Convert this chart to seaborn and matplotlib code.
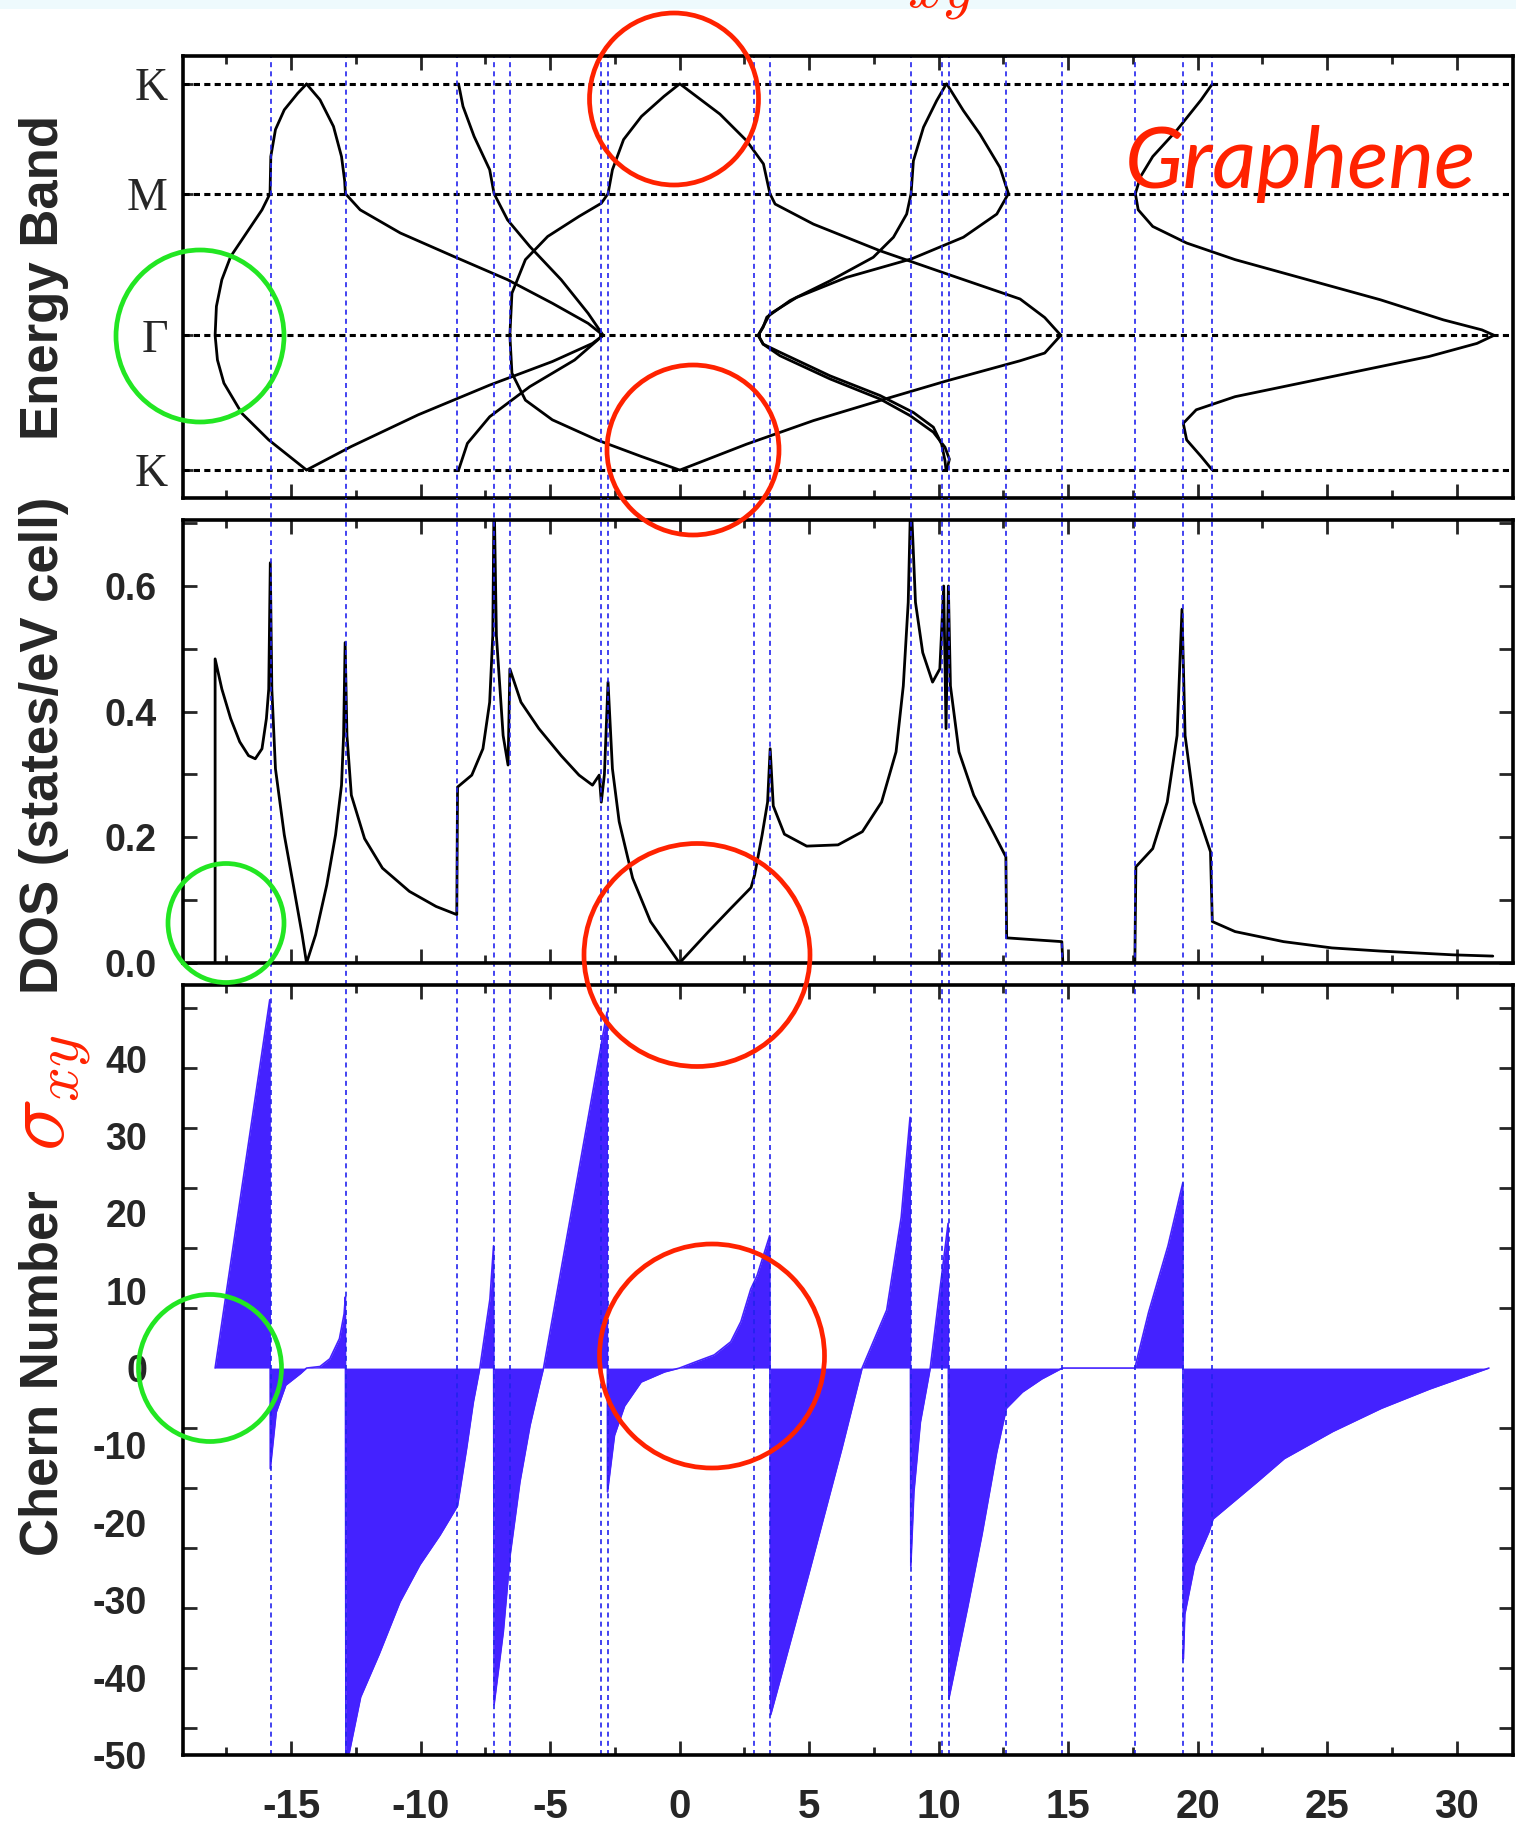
import numpy as np
import matplotlib
matplotlib.use("Agg")
import matplotlib.pyplot as plt
import seaborn as sns
from matplotlib.patches import Ellipse, Rectangle
from matplotlib.ticker import MultipleLocator, FixedLocator

# ---------------- data ----------------
# k-path positions (fraction of the K-Gamma-M-K path)
k_ticks = [0.0, 0.349, 0.716, 1.0]
k_labels = ["K", "Γ", "M", "K"]

# bands: energy (eV) vs k-path position
band1_E = [-14.40, -15.86, -16.90, -17.59, -17.84, -17.93, -17.88, -17.67, -17.33, -16.72, -16.12,
           -15.81, -15.78, -15.60, -15.26, -14.74, -14.40]
band1_k = [0.000, 0.078, 0.147, 0.225, 0.285, 0.349, 0.424, 0.493, 0.553, 0.614, 0.674,
           0.716, 0.812, 0.882, 0.933, 0.976, 1.000]

band2_E = [-14.40, -13.88, -13.36, -13.05, -12.93, -12.90, -12.33, -10.78, -8.71, -6.64, -4.91,
           -3.53, -2.95, -3.36, -4.91, -7.33, -10.09, -12.67, -14.40]
band2_k = [1.000, 0.959, 0.890, 0.812, 0.750, 0.716, 0.674, 0.614, 0.553, 0.493, 0.432,
           0.380, 0.349, 0.328, 0.281, 0.220, 0.143, 0.061, 0.000]

band3_E = [-8.53, -8.36, -7.93, -7.33, -7.16, -6.64, -5.78, -4.57, -3.53, -2.95, -4.05, -5.78,
           -7.33, -8.19, -8.53]
band3_k = [1.000, 0.942, 0.864, 0.778, 0.716, 0.648, 0.579, 0.493, 0.406, 0.349, 0.285, 0.216,
           0.138, 0.069, 0.000]

band4_E = [0.00, -0.60, -1.47, -2.16, -2.59, -2.76, -3.02, -3.88, -5.09, -5.95, -6.47, -6.55,
           -6.47, -5.95, -4.91, -3.19, -1.47, 0.00]
band4_k = [1.000, 0.968, 0.916, 0.856, 0.778, 0.716, 0.691, 0.657, 0.605, 0.545, 0.458, 0.349,
           0.251, 0.181, 0.130, 0.078, 0.035, 0.000]

band5_E = [0.02, 1.56, 2.59, 3.24, 3.49, 3.69, 5.17, 7.74, 10.32, 13.15, 14.10, 14.72, 14.10,
           13.15, 10.32, 7.74, 5.17, 2.59, 0.02]
band5_k = [1.000, 0.922, 0.853, 0.793, 0.716, 0.689, 0.637, 0.568, 0.508, 0.443, 0.395, 0.349,
           0.303, 0.283, 0.231, 0.180, 0.128, 0.067, 0.000]

band6_E = [10.29, 10.25, 10.12, 9.80, 9.03, 7.74, 5.81, 3.88, 3.23, 3.04, 3.23, 3.37, 4.27, 5.81,
           7.48, 8.26, 8.77, 8.94, 9.03, 9.42, 9.93, 10.30]
band6_k = [0.000, 0.024, 0.067, 0.111, 0.149, 0.193, 0.244, 0.305, 0.326, 0.349, 0.370, 0.396,
           0.439, 0.490, 0.551, 0.603, 0.663, 0.716, 0.801, 0.888, 0.957, 1.000]

band7_E = [10.32, 10.42, 10.25, 9.80, 8.90, 7.74, 5.81, 3.88, 3.23, 3.04, 3.23, 3.49, 4.52, 6.45,
           8.96, 10.96, 12.25, 12.70, 12.37, 11.60, 10.96, 10.32]
band7_k = [0.000, 0.028, 0.059, 0.098, 0.141, 0.184, 0.236, 0.296, 0.326, 0.349, 0.372, 0.404,
           0.447, 0.499, 0.547, 0.603, 0.663, 0.716, 0.784, 0.870, 0.931, 1.000]

band8_E = [20.57, 20.14, 19.21, 18.27, 17.80, 17.60, 17.71, 18.27, 19.58, 21.45, 24.25, 27.06,
           29.49, 30.98, 31.45, 30.79, 28.93, 25.19, 21.45, 19.95, 19.45, 19.58, 20.14, 20.57]
band8_k = [1.000, 0.959, 0.881, 0.812, 0.760, 0.716, 0.674, 0.631, 0.588, 0.545, 0.493, 0.441,
           0.389, 0.363, 0.349, 0.328, 0.294, 0.242, 0.190, 0.156, 0.121, 0.078, 0.035, 0.000]

# density of states
dos_E = [-17.93, -17.93, -17.67, -17.33, -16.98, -16.64, -16.38, -16.12, -15.95, -15.86,
         -15.80, -15.74, -15.60, -15.26, -14.91, -14.57, -14.40, -14.05, -13.62, -13.28,
         -13.05, -12.97, -12.91, -12.84, -12.67, -12.16, -11.47, -10.43, -9.40, -8.60,
         -8.57, -8.02, -7.59, -7.33, -7.21, -7.16, -7.07, -6.81, -6.62, -6.55,
         -6.12, -5.43, -4.57, -3.88, -3.36, -3.10, -3.02, -2.90, -2.76, -2.59,
         -2.33, -1.81, -1.12, 0.00, 1.12, 1.98, 2.76, 2.90, 3.19, 3.40,
         3.50, 3.62, 4.05, 4.91, 6.12, 7.06, 7.80, 8.36, 8.64, 8.83,
         8.93, 9.11, 9.39, 9.77, 10.05, 10.20, 10.29, 10.38, 10.46, 10.79,
         11.36, 12.10, 12.60, 12.63, 14.76, 14.80, 17.58, 17.62, 18.27, 18.83,
         19.21, 19.40, 19.52, 19.86, 20.50, 20.57, 21.45, 23.32, 25.19, 27.06,
         29.86, 31.40]
dos_val = [0.0, 0.484, 0.436, 0.389, 0.352, 0.330, 0.325, 0.341, 0.389, 0.436,
           0.637, 0.436, 0.309, 0.204, 0.124, 0.045, 0.0, 0.045, 0.124, 0.204,
           0.283, 0.362, 0.510, 0.362, 0.267, 0.198, 0.151, 0.114, 0.090, 0.077,
           0.280, 0.299, 0.341, 0.415, 0.521, 0.75, 0.521, 0.362, 0.315, 0.468,
           0.415, 0.373, 0.330, 0.299, 0.283, 0.299, 0.256, 0.300, 0.447, 0.309,
           0.225, 0.135, 0.066, 0.0, 0.050, 0.087, 0.120, 0.140, 0.204, 0.256,
           0.341, 0.250, 0.205, 0.186, 0.188, 0.209, 0.256, 0.336, 0.441, 0.574,
           0.75, 0.574, 0.494, 0.447, 0.468, 0.60, 0.373, 0.60, 0.441, 0.336,
           0.267, 0.209, 0.169, 0.040, 0.034, 0.0, 0.0, 0.153, 0.182, 0.256,
           0.362, 0.563, 0.362, 0.256, 0.177, 0.066, 0.050, 0.034, 0.024, 0.019,
           0.013, 0.011]

# Chern number / sigma_xy
chern_E = [-17.93, -15.82, -15.80, -15.57, -15.20, -14.63, -14.40, -13.88, -13.50, -13.13,
           -12.95, -12.90, -12.88, -12.75, -12.31, -11.60, -10.79, -10.02, -9.25, -8.57,
           -8.22, -7.96, -7.71, -7.32, -7.18, -7.16, -6.80, -6.54, -6.16, -5.77,
           -5.38, -5.25, -2.80, -2.78, -2.51, -2.12, -1.48, -0.58, 0.00, 0.70,
           1.34, 1.98, 2.37, 2.75, 3.00, 3.48, 3.52, 5.00, 6.27, 7.05,
           8.00, 8.56, 8.90, 8.93, 9.05, 9.30, 9.68, 10.37, 10.40, 11.12,
           11.68, 12.24, 12.62, 13.24, 13.99, 14.78, 17.58, 18.11, 18.86, 19.43,
           19.45, 19.51, 19.89, 20.45, 20.60, 22.31, 23.35, 25.22, 27.10, 28.97,
           31.25]
chern_val = [0.0, 47.6, -13.0, -5.7, -2.2, -0.7, 0.0, 0.2, 1.2, 3.8,
             7.0, 9.2, -50.0, -49.7, -42.5, -37.0, -30.2, -25.4, -21.6, -17.8,
             -10.4, -4.4, 0.0, 8.9, 15.8, -43.5, -34.0, -24.2, -14.7, -7.4,
             -1.8, 0.0, 46.0, -16.0, -8.7, -4.9, -1.8, -0.5, 0.0, 0.9,
             1.7, 3.4, 6.0, 10.2, 12.0, 17.1, -44.8, -26.5, -10.4, 0.0,
             7.5, 19.5, 32.4, -25.6, -16.0, -7.0, 0.0, 18.7, -42.7, -31.0,
             -21.5, -11.0, -5.2, -3.1, -1.4, 0.0, 0.0, 7.2, 15.8, 23.9,
             -37.6, -31.8, -25.4, -21.1, -19.5, -14.7, -11.7, -8.2, -5.2, -2.7,
             0.0]

# van Hove energies (blue dashed guides)
vhs_E = [-15.78, -12.89, -8.60, -7.17, -6.56, -3.04, -2.76, 2.87, 3.50, 8.93, 10.14,
         10.40, 12.62, 14.78, 17.57, 19.45, 20.57]

chern_labels = [-50, -40, -30, -20, -10, 0, 10, 20, 30, 40]

# ---------------- styling ----------------
sns.set_theme(style="white")
plt.rcParams.update({
    "font.family": ["Liberation Sans", "DejaVu Sans"],
    "axes.unicode_minus": False,
    "mathtext.fontset": "cm",
    "axes.linewidth": 2.6,
    "axes.edgecolor": "black",
})

RED = "#ff2200"
GREEN = "#22e622"
BLUE_FILL = "#4422ff"
BLUE_LINE = "#2222ee"
XLIM = (-19.17, 32.18)
W, H = 1516, 1825

fig = plt.figure(figsize=(15.16, 18.25), dpi=100)
fig.patch.set_facecolor("white")

ax1 = fig.add_axes([183 / W, 1 - 498 / H, 1330 / W, 442 / H])
ax2 = fig.add_axes([183 / W, 1 - 963 / H, 1330 / W, 443 / H])
ax3 = fig.add_axes([183 / W, 1 - 1755 / H, 1330 / W, 770 / H])

# ---- top: band structure
bands = [(band1_E, band1_k), (band2_E, band2_k), (band3_E, band3_k), (band4_E, band4_k),
         (band5_E, band5_k), (band6_E, band6_k), (band7_E, band7_k), (band8_E, band8_k)]
for be, bk in bands:
    sns.lineplot(x=be, y=bk, ax=ax1, sort=False, estimator=None, color="black", linewidth=2.0)
for kk in k_ticks:
    ax1.axhline(kk, color="black", linestyle=(0, (2, 1.4)), linewidth=2.2, zorder=2)
ax1.set_ylim(-0.0725, 1.0725)

# ---- middle: DOS
sns.lineplot(x=dos_E, y=dos_val, ax=ax2, sort=False, estimator=None, color="black", linewidth=2.0)
ax2.set_ylim(0, 0.705)

# ---- bottom: Chern number
ax3.fill_between(chern_E, 0, chern_val, color=BLUE_FILL, linewidth=0, zorder=2)
ax3.plot(chern_E, chern_val, color=BLUE_FILL, linewidth=1.2, zorder=2)
ax3.set_ylim(-50, 49.5)

# van Hove guide lines
for e in vhs_E:
    ax1.axvline(e, color=BLUE_LINE, linestyle=(0, (3, 2.5)), linewidth=1.2, zorder=3)
    ax3.axvline(e, color=BLUE_LINE, linestyle=(0, (3, 2.5)), linewidth=1.2, zorder=3)
    ax2.axvline(e, ymin=-0.05, ymax=1.05, clip_on=False, color=BLUE_LINE,
                linestyle=(0, (3, 2.5)), linewidth=1.2, zorder=3)

# ---- axes and ticks
for ax in (ax1, ax2, ax3):
    ax.set_xlim(XLIM)
    ax.set_xlabel("")
    ax.set_ylabel("")
    ax.xaxis.set_major_locator(MultipleLocator(5))
    ax.xaxis.set_minor_locator(MultipleLocator(2.5))
    ax.tick_params(axis="x", which="major", direction="in", length=10, width=2,
                   top=True, bottom=True)
    ax.tick_params(axis="x", which="minor", direction="in", length=6, width=2,
                   top=True, bottom=True)
    for s in ax.spines.values():
        s.set_linewidth(2.6)
        s.set_zorder(5)

ax1.tick_params(axis="x", labelbottom=False)
ax2.tick_params(axis="x", labelbottom=False)

ax1.set_yticks(k_ticks)
ax1.set_yticklabels(k_labels, fontfamily="Liberation Serif", fontsize=33)
ax1.tick_params(axis="y", direction="in", length=7, width=2, left=True, right=False, pad=11)

ax2.yaxis.set_major_locator(MultipleLocator(0.2))
ax2.yaxis.set_minor_locator(MultipleLocator(0.1))
ax2.yaxis.set_major_formatter(matplotlib.ticker.FormatStrFormatter("%.1f"))
ax2.tick_params(axis="y", which="both", direction="in", length=10, width=2,
                left=True, right=True, labelsize=27, pad=19)

ax3.yaxis.set_major_locator(FixedLocator(chern_labels))
ax3.yaxis.set_minor_locator(MultipleLocator(7.75))
ax3.tick_params(axis="y", which="major", length=0, labelsize=27, pad=26)
ax3.tick_params(axis="y", which="minor", direction="in", length=10, width=2,
                left=True, right=True)
ax3.tick_params(axis="x", labelsize=29, pad=24)

for lbl in ax2.get_yticklabels() + ax3.get_yticklabels() + ax3.get_xticklabels():
    lbl.set_fontweight("bold")

# ---- axis titles
fig.text(44 / W, 1 - 277 / H, "Energy Band", rotation=90, fontsize=38, fontweight="bold",
         ha="center", va="center")
fig.text(44 / W, 1 - 745 / H, "DOS (states/eV cell)", rotation=90, fontsize=38,
         fontweight="bold", ha="center", va="center")
fig.text(44 / W, 1 - 1373 / H, "Chern Number", rotation=90, fontsize=38, fontweight="bold",
         ha="center", va="center")
fig.text(54 / W, 1 - 1092 / H, r"$\sigma_{xy}$", rotation=90, fontsize=63, color=RED,
         ha="center", va="center")

# ---- decorations: top strip, cut-off title, Graphene label, circles
fig.add_artist(Rectangle((0, 1 - 9 / H), 1, 9 / H, transform=fig.transFigure,
                         facecolor="#eefafd", edgecolor="none", zorder=0))
fig.text(858 / W, 1 + 6 / H, r"$\sigma_{xy}$", fontsize=63, color=RED, ha="left",
         va="baseline")
fig.text(1125 / W, 1 - 188 / H, "Graphene", fontsize=62, color=RED, style="italic",
         family=["Lato", "DejaVu Sans"], ha="left", va="baseline", zorder=6)

circles = [
    (674, 99, 169, 172, RED), (693, 450, 172, 170, RED), (697, 955, 226, 223, RED),
    (712, 1356, 225, 224, RED),
    (200, 336, 168, 172, GREEN), (226, 923, 116, 119, GREEN), (210, 1368, 143, 147, GREEN),
]
for cx, cy, w, h, col in circles:
    fig.add_artist(Ellipse((cx / W, 1 - cy / H), w / W, h / H, transform=fig.transFigure,
                           fill=False, edgecolor=col, linewidth=3.4, zorder=10))

fig.savefig("out.png", dpi=100)
